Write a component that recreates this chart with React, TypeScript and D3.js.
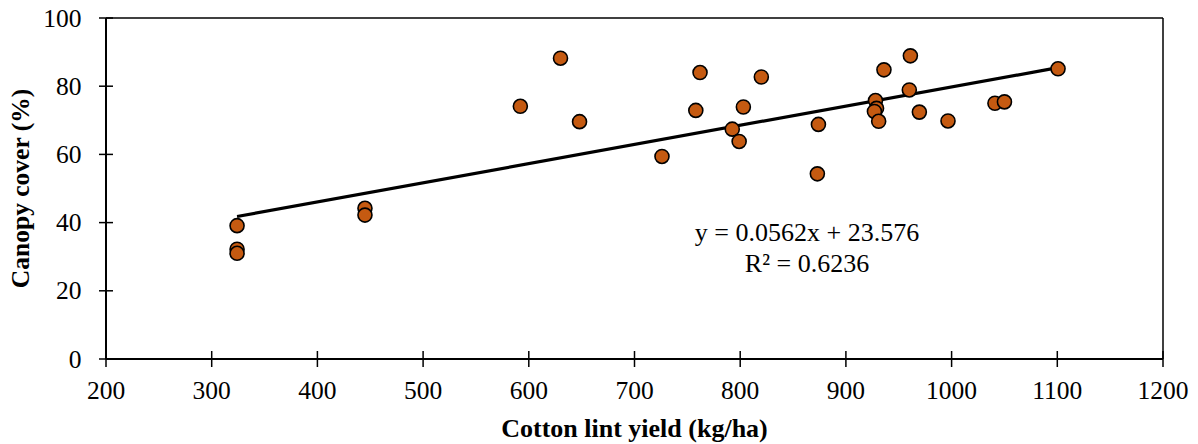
import React from "react";
import * as d3 from "d3";

const yieldKgHa: number[] = [324, 324, 324, 445, 445, 592, 630, 648, 726, 758, 762, 792.5, 799, 803, 820, 873, 874, 928, 929, 927, 931, 936, 961, 960, 969.5, 996.6, 1041, 1050, 1100.7];
const canopyCover: number[] = [39.1, 32.2, 31.0, 44.2, 42.2, 74.1, 88.2, 69.6, 59.4, 72.9, 84.0, 67.4, 63.8, 73.9, 82.7, 54.3, 68.8, 75.8, 73.5, 72.6, 69.7, 84.8, 88.9, 78.9, 72.4, 69.8, 75.0, 75.4, 85.1];
const slope = 0.0562;
const intercept = 23.576;
const equationLines = ["y = 0.0562x + 23.576", "R² = 0.6236"];
const xTicks = [200, 300, 400, 500, 600, 700, 800, 900, 1000, 1100, 1200];
const yTicks = [0, 20, 40, 60, 80, 100];
const xTitle = "Cotton lint yield (kg/ha)";
const yTitle = "Canopy cover (%)";

const W = 1198, H = 444;
const L = 106, R = 1163, T = 18, B = 359;
const font = "'Liberation Serif', 'Times New Roman', serif";

export default function App() {
  const x = d3.scaleLinear().domain([200, 1200]).range([L, R]);
  const y = d3.scaleLinear().domain([0, 100]).range([B, T]);
  const xMin = d3.min(yieldKgHa) as number;
  const xMax = d3.max(yieldKgHa) as number;
  const line = d3.line<number>().x((v) => x(v)).y((v) => y(slope * v + intercept));
  return (
    <svg width={W} height={H} style={{ position: "absolute", left: 0, top: 0, display: "block", background: "#fff" }} fontFamily={font}>
      {/* frame */}
      <line x1={L} x2={R} y1={T} y2={T} stroke="#000" strokeWidth={1.5} />
      <line x1={R} x2={R} y1={T} y2={B} stroke="#000" strokeWidth={1.5} />
      <line x1={L} x2={L} y1={T} y2={B} stroke="#000" strokeWidth={2} />
      <line x1={L} x2={R} y1={B} y2={B} stroke="#000" strokeWidth={2} />
      {yTicks.map((t) => (
        <g key={"y" + t}>
          <line x1={L - 7} x2={L + 7} y1={y(t)} y2={y(t)} stroke="#000" strokeWidth={1.5} />
          <text x={81.5} y={y(t) + 8.5} textAnchor="end" fontSize={25.5} fill="#000">{t}</text>
        </g>
      ))}
      {xTicks.map((t) => (
        <g key={"x" + t}>
          <line x1={x(t)} x2={x(t)} y1={B - 8} y2={B + 8} stroke="#000" strokeWidth={1.5} />
          <text x={x(t)} y={399} textAnchor="middle" fontSize={25.5} fill="#000">{t}</text>
        </g>
      ))}
      <text x={(L + R) / 2} y={437} textAnchor="middle" fontSize={26} fontWeight="bold" fill="#000">{xTitle}</text>
      <text transform={`translate(29, ${(T + B) / 2}) rotate(-90)`} textAnchor="middle" fontSize={25.5} fontWeight="bold" fill="#000">{yTitle}</text>
      <path d={line([xMin, xMax]) || ""} stroke="#000" strokeWidth={3.2} fill="none" />
      {yieldKgHa.map((v, i) => (
        <circle key={i} cx={x(v)} cy={y(canopyCover[i])} r={7} fill="#C55A11" stroke="#000" strokeWidth={1.6} />
      ))}
      {equationLines.map((s, i) => (
        <text key={s} x={807} y={241 + i * 31} textAnchor="middle" fontSize={26} fill="#000">{s}</text>
      ))}
    </svg>
  );
}
